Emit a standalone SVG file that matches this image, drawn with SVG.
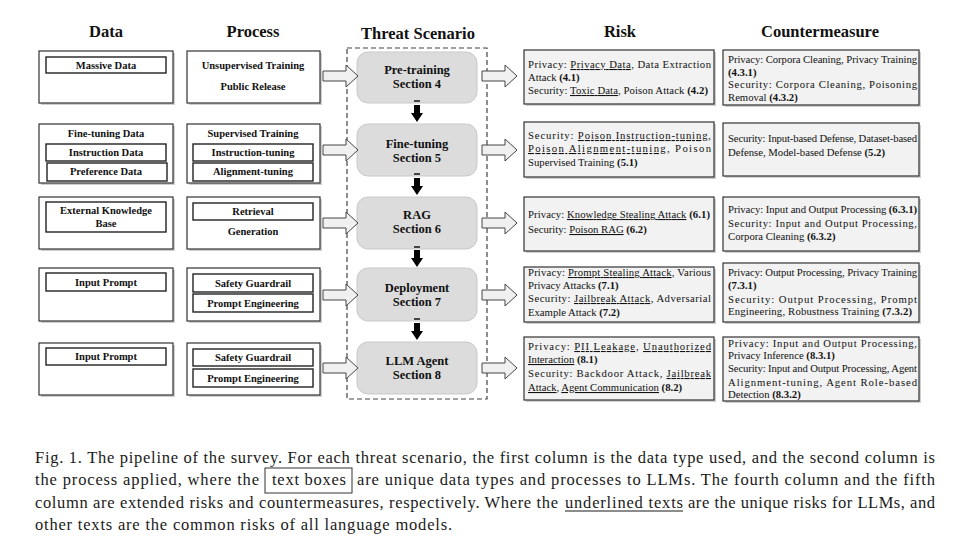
<svg xmlns="http://www.w3.org/2000/svg" width="967" height="547" viewBox="0 0 967 547">
<style>
.hdr{font-family:"Liberation Serif",serif;font-weight:bold;font-size:16.5px;fill:#111;text-anchor:middle}
.bt{font-family:"Liberation Serif",serif;font-weight:bold;font-size:10.5px;fill:#111;text-anchor:middle}
.sc{font-family:"Liberation Serif",serif;font-weight:bold;font-size:12.5px;fill:#111;text-anchor:middle}
.rt{font-family:"Liberation Serif",serif;font-size:10.7px;fill:#111}
.b{font-weight:bold}
.u{text-decoration:underline}
.outer{fill:#fff;stroke:#333;stroke-width:1.2}
.inner{fill:#fff;stroke:#222;stroke-width:1.4}
.shadow{fill:#cfcfcf}
.rbox{fill:#f2f2f2;stroke:#333;stroke-width:1.2}
.scen{fill:#dcdcdc;stroke:#c9c9c9;stroke-width:1}
.harr{fill:#f0f0f0;stroke:#444;stroke-width:1}
.darr{fill:#000}
.dbar{fill:#444}
.cap{font-family:"Liberation Serif",serif;font-size:16.5px;fill:#1a1a1a}
</style>
<defs>
<path id="rarr" d="M0,-5 H23 V-11 L35,0 L23,11 V5 H0 Z"/>
<path id="darr" d="M-3,0 H3 V8 H6 L0,17 L-6,8 H-3 Z"/>
</defs>
<rect width="967" height="547" fill="#fff"/>

<g id="headers">
<text class="hdr" x="106" y="37">Data</text>
<text class="hdr" x="253" y="37">Process</text>
<text class="hdr" x="418" y="39">Threat Scenario</text>
<text class="hdr" x="620" y="37">Risk</text>
<text class="hdr" x="820" y="37">Countermeasure</text>
</g>

<!-- Data column -->
<g id="data-pretraining">
<rect class="shadow" x="41" y="53" width="134" height="52"/>
<rect class="outer" x="39" y="51" width="134" height="52"/>
<rect class="inner" x="46" y="57" width="120" height="16"/>
<text class="bt" x="106" y="68.5">Massive Data</text>
</g>
<g id="data-finetuning">
<rect class="shadow" x="41" y="126" width="134" height="59"/>
<rect class="outer" x="39" y="124" width="134" height="59"/>
<text class="bt" x="106" y="137">Fine-tuning Data</text>
<rect class="inner" x="46" y="144" width="120" height="17"/>
<text class="bt" x="106" y="156">Instruction Data</text>
<rect class="inner" x="47" y="163" width="120" height="18"/>
<text class="bt" x="106" y="175">Preference Data</text>
</g>
<g id="data-rag">
<rect class="shadow" x="41" y="199" width="134" height="52"/>
<rect class="outer" x="39" y="197" width="134" height="52"/>
<rect class="inner" x="46" y="202" width="120" height="30"/>
<text class="bt" x="106" y="214">External Knowledge</text>
<text class="bt" x="106" y="226.5">Base</text>
</g>
<g id="data-deployment">
<rect class="shadow" x="41" y="270" width="134" height="53"/>
<rect class="outer" x="39" y="268" width="134" height="53"/>
<rect class="inner" x="46" y="273" width="120" height="18"/>
<text class="bt" x="106" y="286">Input Prompt</text>
</g>
<g id="data-agent">
<rect class="shadow" x="41" y="345" width="134" height="52"/>
<rect class="outer" x="39" y="343" width="134" height="52"/>
<rect class="inner" x="46" y="348" width="120" height="17"/>
<text class="bt" x="106" y="360">Input Prompt</text>
</g>

<!-- Process column -->
<g id="proc-pretraining">
<rect class="shadow" x="189" y="53" width="133" height="52"/>
<rect class="outer" x="187" y="51" width="133" height="52"/>
<text class="bt" x="253" y="68.5">Unsupervised Training</text>
<text class="bt" x="253" y="89.5">Public Release</text>
</g>
<g id="proc-finetuning">
<rect class="shadow" x="189" y="126" width="133" height="59"/>
<rect class="outer" x="187" y="124" width="133" height="59"/>
<text class="bt" x="253" y="137">Supervised Training</text>
<rect class="inner" x="193" y="144" width="120" height="17"/>
<text class="bt" x="253" y="156">Instruction-tuning</text>
<rect class="inner" x="193" y="163" width="120" height="18"/>
<text class="bt" x="253" y="175">Alignment-tuning</text>
</g>
<g id="proc-rag">
<rect class="shadow" x="189" y="199" width="133" height="52"/>
<rect class="outer" x="187" y="197" width="133" height="52"/>
<rect class="inner" x="193" y="203" width="120" height="17"/>
<text class="bt" x="253" y="215">Retrieval</text>
<text class="bt" x="253" y="235">Generation</text>
</g>
<g id="proc-deployment">
<rect class="shadow" x="189" y="270" width="133" height="53"/>
<rect class="outer" x="187" y="268" width="133" height="53"/>
<rect class="inner" x="193" y="274" width="120" height="18"/>
<text class="bt" x="253" y="287">Safety Guardrail</text>
<rect class="inner" x="193" y="294" width="120" height="18"/>
<text class="bt" x="253" y="307">Prompt Engineering</text>
</g>
<g id="proc-agent">
<rect class="shadow" x="189" y="345" width="133" height="52"/>
<rect class="outer" x="187" y="343" width="133" height="52"/>
<rect class="inner" x="193" y="349" width="120" height="17"/>
<text class="bt" x="253" y="361">Safety Guardrail</text>
<rect class="inner" x="193" y="369" width="120" height="18"/>
<text class="bt" x="253" y="382">Prompt Engineering</text>
</g>

<!-- Threat scenario -->
<g id="scenario-frame">
<rect x="347" y="48" width="140" height="351" fill="none" stroke="#444" stroke-width="1.2" stroke-dasharray="5,3"/>
</g>
<g id="scen-pretraining">
<rect class="scen" x="357" y="52" width="120" height="51" rx="11"/>
<text class="sc" x="417" y="74">Pre-training</text>
<text class="sc" x="417" y="88">Section 4</text>
</g>
<g id="scen-finetuning">
<rect class="scen" x="357" y="124" width="120" height="52" rx="11"/>
<text class="sc" x="417" y="148">Fine-tuning</text>
<text class="sc" x="417" y="162">Section 5</text>
</g>
<g id="scen-rag">
<rect class="scen" x="357" y="197" width="120" height="52" rx="11"/>
<text class="sc" x="417" y="219">RAG</text>
<text class="sc" x="417" y="233">Section 6</text>
</g>
<g id="scen-deployment">
<rect class="scen" x="357" y="268" width="120" height="53" rx="11"/>
<text class="sc" x="417" y="292">Deployment</text>
<text class="sc" x="417" y="306">Section 7</text>
</g>
<g id="scen-agent">
<rect class="scen" x="357" y="342" width="120" height="52" rx="11"/>
<text class="sc" x="417" y="365">LLM Agent</text>
<text class="sc" x="417" y="379">Section 8</text>
</g>

<!-- Risk column -->
<g id="risk-pretraining">
<rect class="shadow" x="526" y="52" width="190" height="54"/>
<rect class="rbox" x="524" y="50" width="190" height="54"/>
<text class="rt" x="528" y="68" textLength="183" lengthAdjust="spacing">Privacy: <tspan class="u">Privacy Data</tspan>, Data Extraction</text>
<text class="rt" x="528" y="81">Attack <tspan class="b">(4.1)</tspan></text>
<text class="rt" x="528" y="94" textLength="180" lengthAdjust="spacing">Security: <tspan class="u">Toxic Data</tspan>, Poison Attack <tspan class="b">(4.2)</tspan></text>
</g>
<g id="risk-finetuning">
<rect class="shadow" x="526" y="124" width="190" height="55"/>
<rect class="rbox" x="524" y="122" width="190" height="55"/>
<text class="rt" x="528" y="139" textLength="183" lengthAdjust="spacing">Security: <tspan class="u">Poison Instruction-tuning</tspan>,</text>
<text class="rt" x="528" y="152" textLength="183" lengthAdjust="spacing"><tspan class="u">Poison Alignment-tuning</tspan>, Poison</text>
<text class="rt" x="528" y="166">Supervised Training <tspan class="b">(5.1)</tspan></text>
</g>
<g id="risk-rag">
<rect class="shadow" x="526" y="199" width="190" height="54"/>
<rect class="rbox" x="524" y="197" width="190" height="54"/>
<text class="rt" x="528" y="218" textLength="182" lengthAdjust="spacing">Privacy: <tspan class="u">Knowledge Stealing Attack</tspan> <tspan class="b">(6.1)</tspan></text>
<text class="rt" x="528" y="233">Security: <tspan class="u">Poison RAG</tspan> <tspan class="b">(6.2)</tspan></text>
</g>
<g id="risk-deployment">
<rect class="shadow" x="526" y="269" width="190" height="55"/>
<rect class="rbox" x="524" y="267" width="190" height="55"/>
<text class="rt" x="528" y="276" textLength="183" lengthAdjust="spacing">Privacy: <tspan class="u">Prompt Stealing Attack</tspan>, Various</text>
<text class="rt" x="528" y="289">Privacy Attacks <tspan class="b">(7.1)</tspan></text>
<text class="rt" x="528" y="302" textLength="183" lengthAdjust="spacing">Security: <tspan class="u">Jailbreak Attack</tspan>, Adversarial</text>
<text class="rt" x="528" y="316">Example Attack  <tspan class="b">(7.2)</tspan></text>
</g>
<g id="risk-agent">
<rect class="shadow" x="526" y="339" width="190" height="63"/>
<rect class="rbox" x="524" y="337" width="190" height="63"/>
<text class="rt" x="528" y="350" textLength="183" lengthAdjust="spacing">Privacy: <tspan class="u">PII Leakage</tspan>, <tspan class="u">Unauthorized</tspan></text>
<text class="rt" x="528" y="363"><tspan class="u">Interaction</tspan> <tspan class="b">(8.1)</tspan></text>
<text class="rt" x="528" y="377" textLength="183" lengthAdjust="spacing">Security: Backdoor Attack, <tspan class="u">Jailbreak</tspan></text>
<text class="rt" x="528" y="391"><tspan class="u">Attack</tspan>, <tspan class="u">Agent Communication</tspan> <tspan class="b">(8.2)</tspan></text>
</g>

<!-- Countermeasure column -->
<g id="cm-pretraining">
<rect class="shadow" x="725" y="52" width="196" height="55"/>
<rect class="rbox" x="723" y="50" width="196" height="55"/>
<text class="rt" x="728" y="63" textLength="189" lengthAdjust="spacing">Privacy: Corpora Cleaning, Privacy Training</text>
<text class="rt b" x="728" y="76">(4.3.1)</text>
<text class="rt" x="728" y="88" textLength="189" lengthAdjust="spacing">Security: Corpora Cleaning, Poisoning</text>
<text class="rt" x="728" y="101">Removal <tspan class="b">(4.3.2)</tspan></text>
</g>
<g id="cm-finetuning">
<rect class="shadow" x="725" y="125" width="196" height="53"/>
<rect class="rbox" x="723" y="123" width="196" height="53"/>
<text class="rt" x="728" y="142" textLength="189" lengthAdjust="spacing">Security: Input-based Defense, Dataset-based</text>
<text class="rt" x="728" y="156">Defense, Model-based Defense <tspan class="b">(5.2)</tspan></text>
</g>
<g id="cm-rag">
<rect class="shadow" x="725" y="199" width="196" height="54"/>
<rect class="rbox" x="723" y="197" width="196" height="54"/>
<text class="rt" x="728" y="213" textLength="189" lengthAdjust="spacing">Privacy: Input and Output Processing <tspan class="b">(6.3.1)</tspan></text>
<text class="rt" x="728" y="227" textLength="189" lengthAdjust="spacing">Security: Input and Output Processing,</text>
<text class="rt" x="728" y="240">Corpora Cleaning <tspan class="b">(6.3.2)</tspan></text>
</g>
<g id="cm-deployment">
<rect class="shadow" x="725" y="265" width="196" height="59"/>
<rect class="rbox" x="723" y="263" width="196" height="59"/>
<text class="rt" x="728" y="276" textLength="189" lengthAdjust="spacing">Privacy: Output Processing, Privacy Training</text>
<text class="rt b" x="728" y="289">(7.3.1)</text>
<text class="rt" x="728" y="303" textLength="189" lengthAdjust="spacing">Security: Output Processing, Prompt</text>
<text class="rt" x="728" y="315" textLength="184" lengthAdjust="spacing">Engineering, Robustness Training <tspan class="b">(7.3.2)</tspan></text>
</g>
<g id="cm-agent">
<rect class="shadow" x="725" y="339" width="196" height="64"/>
<rect class="rbox" x="723" y="337" width="196" height="64"/>
<text class="rt" x="728" y="347" textLength="189" lengthAdjust="spacing">Privacy: Input and Output Processing,</text>
<text class="rt" x="728" y="359">Privacy Inference <tspan class="b">(8.3.1)</tspan></text>
<text class="rt" x="728" y="372" textLength="189" lengthAdjust="spacing">Security: Input and Output Processing, Agent</text>
<text class="rt" x="728" y="386" textLength="189" lengthAdjust="spacing">Alignment-tuning, Agent Role-based</text>
<text class="rt" x="728" y="398">Detection <tspan class="b">(8.3.2)</tspan></text>
</g>

<!-- Connectors -->
<g id="connectors">
<use href="#rarr" class="harr" x="323" y="76"/>
<use href="#rarr" class="harr" x="323" y="150"/>
<use href="#rarr" class="harr" x="323" y="223"/>
<use href="#rarr" class="harr" x="323" y="295"/>
<use href="#rarr" class="harr" x="323" y="368"/>
<use href="#rarr" class="harr" x="482" y="76"/>
<use href="#rarr" class="harr" x="482" y="150"/>
<use href="#rarr" class="harr" x="482" y="223"/>
<use href="#rarr" class="harr" x="482" y="295"/>
<use href="#rarr" class="harr" x="482" y="368"/>
<rect class="dbar" x="414" y="100" width="6" height="2"/>
<use href="#darr" class="darr" x="417" y="105"/>
<rect class="dbar" x="414" y="173" width="6" height="2"/>
<use href="#darr" class="darr" x="417" y="178"/>
<rect class="dbar" x="414" y="246" width="6" height="2"/>
<use href="#darr" class="darr" x="417" y="250"/>
<rect class="dbar" x="414" y="318" width="6" height="2"/>
<use href="#darr" class="darr" x="417" y="323"/>
</g>

<!-- Caption -->
<g id="caption">
<text class="cap" x="35" y="463" textLength="900" lengthAdjust="spacing">Fig. 1.  The pipeline of the survey. For each threat scenario, the first column is the data type used, and the second column is</text>
<text class="cap" x="35" y="485" textLength="224" lengthAdjust="spacing">the process applied, where the</text>
<rect x="265" y="468" width="87" height="25" fill="none" stroke="#333" stroke-width="1"/>
<text class="cap" x="272" y="485" textLength="74" lengthAdjust="spacing">text boxes</text>
<text class="cap" x="357" y="485" textLength="578" lengthAdjust="spacing">are unique data types and processes to LLMs. The fourth column and the fifth</text>
<text class="cap" x="35" y="508" textLength="523" lengthAdjust="spacing">column are extended risks and countermeasures, respectively. Where the</text>
<text class="cap" x="565" y="508" textLength="118" lengthAdjust="spacing">underlined texts</text>
<line x1="565" y1="511" x2="683" y2="511" stroke="#1a1a1a" stroke-width="1"/>
<text class="cap" x="688" y="508" textLength="247" lengthAdjust="spacing">are the unique risks for LLMs, and</text>
<text class="cap" x="35" y="530" textLength="417" lengthAdjust="spacing">other texts are the common risks of all language models.</text>
</g>
</svg>
